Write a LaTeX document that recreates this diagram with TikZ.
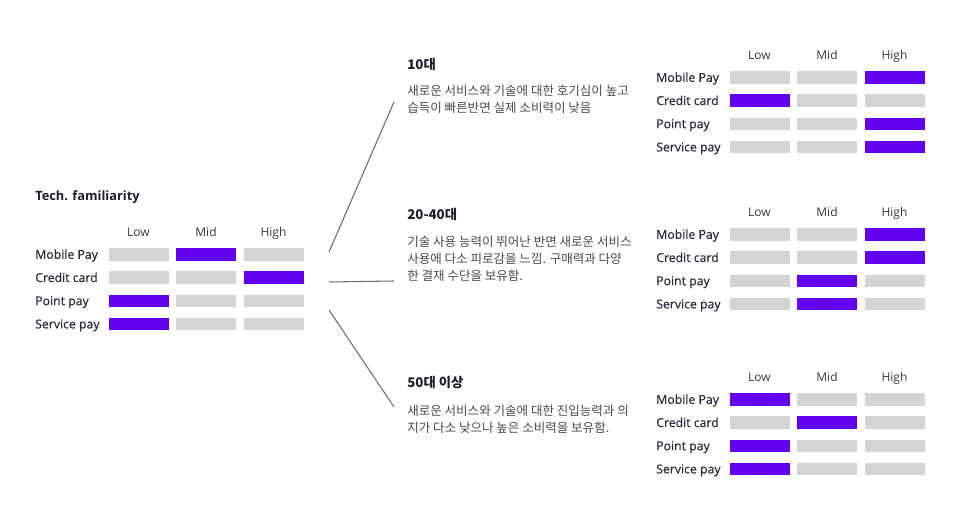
\documentclass[tikz,border=0pt]{standalone}
\usepackage{fontspec}
\setmainfont{Open Sans}
\newfontfamily\lblfont{Open Sans}[FakeBold=0.5]
\newfontfamily\krfont{Noto Sans CJK KR}
\definecolor{bp}{HTML}{6300EE}
\definecolor{bg}{HTML}{D4D4D4}
\definecolor{lbltxt}{HTML}{2A2A40}
\definecolor{hdrtxt}{HTML}{3A3A3A}
\definecolor{bodytxt}{HTML}{4A4A4A}
\definecolor{ttltxt}{HTML}{1E1E30}
\definecolor{linec}{HTML}{6E6E6E}
\tikzset{
  hdr/.style={anchor=base,inner sep=0pt,text=hdrtxt,font=\fontsize{9}{11}\selectfont},
  lbl/.style={anchor=base west,inner sep=0pt,text=lbltxt,font=\lblfont\fontsize{9.2}{11}\selectfont},
  bar/.style={inner sep=0pt,minimum width=45pt,minimum height=9.4pt,fill=bg,draw=none},
  ttl/.style={anchor=base west,inner sep=0pt,text=ttltxt,font=\bfseries\fontsize{9.6}{11}\selectfont},
  ktitle/.style={anchor=base west,inner sep=0pt,text=ttltxt,font=\krfont\bfseries\fontsize{10}{11}\selectfont},
  kbody/.style={anchor=base west,inner sep=0pt,text=bodytxt,font=\krfont\fontsize{9.4}{11}\selectfont},
  conn/.style={draw=linec,line width=0.8pt}
}
\newcommand\paytable[7]{%
  \node[hdr] (#1-h1) at ({#2+103.5},{#3+4.2}) {Low};
  \node[hdr] (#1-h2) at ({#2+171},{#3+4.2}) {Mid};
  \node[hdr] (#1-h3) at ({#2+238.5},{#3+4.2}) {High};
  \foreach \lab/\lev [count=\i] in {Mobile Pay/#4,Credit card/#5,Point pay/#6,Service pay/#7}{
    \pgfmathsetmacro\ry{#3+22.5+23.2*(\i-1)}
    \node[lbl] (#1-r\i) at ({#2},{\ry+4.3}) {\lab};
    \foreach \c in {1,2,3}{
      \node[bar] (#1-r\i-c\c) at ({#2+103.5+67.5*(\c-1)},{\ry}) {};
    }
    \node[bar,fill=bp] (#1-r\i-on) at ({#2+103.5+67.5*(\lev-1)},{\ry}) {};
  }
}
\begin{document}
\begin{tikzpicture}[x=0.75pt,y=-0.75pt]
\fill[white] (0,0) rectangle (964,527);
\useasboundingbox (0,0) rectangle (964,527);

% left table
\node[ttl] (lt) at (35,200.6) {Tech. familiarity};
\paytable{L}{35}{232}{2}{3}{1}{1}

% right tables
\paytable{A}{656}{55}{3}{1}{3}{3}
\paytable{B}{656}{212}{3}{3}{2}{2}
\paytable{C}{656}{377}{1}{2}{1}{1}

% texts
\node[ktitle] (t1) at (407,69.8) {10대};
\node[kbody] (t1a) at (407,95.6) {새로운 서비스와 기술에 대한 호기심이 높고};
\node[kbody] (t1b) at (407,112.6) {습득이 빠른반면 실제 소비력이 낮음};

\node[ktitle] (t2) at (407,219.8) {20-40대};
\node[kbody] (t2a) at (407,246.6) {기술 사용 능력이 뛰어난 반면 새로운 서비스};
\node[kbody] (t2b) at (407,263.6) {사용에 다소 피로감을 느낌. 구매력과 다양};
\node[kbody] (t2c) at (407,280.6) {한 결재 수단을 보유함.};

\node[ktitle] (t3) at (407,387.8) {50대 이상};
\node[kbody] (t3a) at (407,415.6) {새로운 서비스와 기술에 대한 진입능력과 의};
\node[kbody] (t3b) at (407,432.6) {지가 다소 낮으나 높은 소비력을 보유함.};

% connectors
\coordinate (s1) at (329,252);
\coordinate (e1) at (394,102);
\coordinate (s2) at (329,282);
\coordinate (e2) at (394,281);
\coordinate (s3) at (329,310);
\coordinate (e3) at (394,407);
\draw[conn] (s1) -- (e1);
\draw[conn] (s2) -- (e2);
\draw[conn] (s3) -- (e3);
\end{tikzpicture}
\end{document}
